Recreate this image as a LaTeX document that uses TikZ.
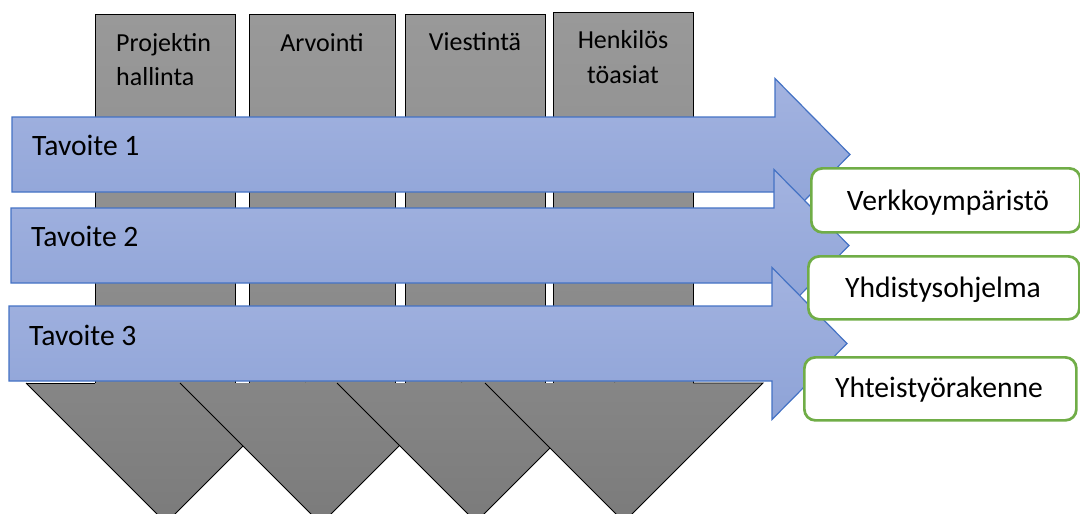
\documentclass[tikz,border=0pt]{standalone}
\usepackage{fontspec}
\setmainfont{Carlito}
\definecolor{arrtop}{HTML}{A3B3E0}
\definecolor{arrbot}{HTML}{8EA3D7}
\definecolor{arrline}{HTML}{4472C4}
\definecolor{coltop}{HTML}{999999}
\definecolor{colbot}{HTML}{878787}
\definecolor{tritop}{HTML}{868686}
\definecolor{tribot}{HTML}{7B7B7B}
\definecolor{grn}{HTML}{70AD47}
\begin{document}
\begin{tikzpicture}[x=1pt,y=-1pt,
  colbox/.style={draw=black, line width=0.9pt, top color=coltop, bottom color=colbot, inner sep=0pt, anchor=north west},
  tri/.style={top color=tritop, bottom color=tribot},
  triedge/.style={draw=black, line width=0.9pt},
  bigarrow/.style={draw=arrline, line width=1.2pt, top color=arrtop, bottom color=arrbot, line join=miter},
  gbox/.style={draw=grn, line width=2.7pt, fill=white, rounded corners=11pt, inner sep=0pt, anchor=north west},
  coltext/.style={font=\fontsize{26}{31}\selectfont, inner sep=0pt},
  tavtext/.style={font=\fontsize{29.6}{35}\selectfont, inner sep=0pt, anchor=base west},
  boxtext/.style={font=\fontsize{29.6}{35}\selectfont, inner sep=0pt, anchor=base}
]
\useasboundingbox (0,0) rectangle (1080,514);
\clip (0,0) rectangle (1080,514);

% columns
\node[colbox, minimum width=140pt, minimum height=369pt] (col1) at (95,14) {};
\node[colbox, minimum width=146pt, minimum height=369pt] (col2) at (249,14) {};
\node[colbox, minimum width=140pt, minimum height=369pt] (col3) at (405,14) {};
\node[colbox, minimum width=140pt, minimum height=371pt] (col4) at (553,12) {};

\node[coltext, anchor=base west] (c1a) at (116,51) {Projektin};
\node[coltext, anchor=base west] (c1b) at (116,85) {hallinta};
\node[coltext, anchor=base] (c2) at (322,51) {Arvointi};
\node[coltext, anchor=base] (c3) at (475,50) {Viestintä};
\node[coltext, anchor=base] (c4a) at (623,48.5) {Henkilös};
\node[coltext, anchor=base] (c4b) at (623,83) {töasiat};

% triangles
\fill[tri] (26,383) -- (166,523) -- (306,383) -- cycle;
\draw[triedge] (26,383) -- (166,523) -- (306,383);
\draw[triedge] (26,383) -- (95,383);
\fill[tri] (180,383) -- (321,524) -- (462,383) -- cycle;
\draw[triedge] (180,383) -- (321,524) -- (462,383);
\fill[tri] (337,383) -- (476,522) -- (615,383) -- cycle;
\draw[triedge] (337,383) -- (476,522) -- (615,383);
\fill[tri] (485,383) -- (624,522) -- (763,383) -- cycle;
\draw[triedge] (485,383) -- (624,522) -- (763,383) -- (693,383);

% arrows
\path[bigarrow] (12,117) -- (775,117) -- (775,78.5) -- (850,154.5) -- (775,230.5) -- (775,192) -- (12,192) -- cycle;
\path[bigarrow] (11,208) -- (774,208) -- (774,169.5) -- (849,245.5) -- (774,321.5) -- (774,283) -- (11,283) -- cycle;
\path[bigarrow] (9,306) -- (772,306) -- (772,267.5) -- (847,343.5) -- (772,419.5) -- (772,381) -- (9,381) -- cycle;

\node[tavtext] (t1) at (32,155) {Tavoite 1};
\node[tavtext] (t2) at (31,246.5) {Tavoite 2};
\node[tavtext] (t3) at (29,345) {Tavoite 3};

% result boxes
\node[gbox, minimum width=269pt, minimum height=64pt] (g1) at (810,167) {};
\node[gbox, minimum width=271pt, minimum height=63pt] (g2) at (807,255) {};
\node[gbox, minimum width=272pt, minimum height=63pt] (g3) at (803,356) {};
\node[boxtext] (g1t) at (948,210) {Verkkoympäristö};
\node[boxtext] (g2t) at (943,297) {Yhdistysohjelma};
\node[boxtext] (g3t) at (939,397) {Yhteistyörakenne};
\end{tikzpicture}
\end{document}
